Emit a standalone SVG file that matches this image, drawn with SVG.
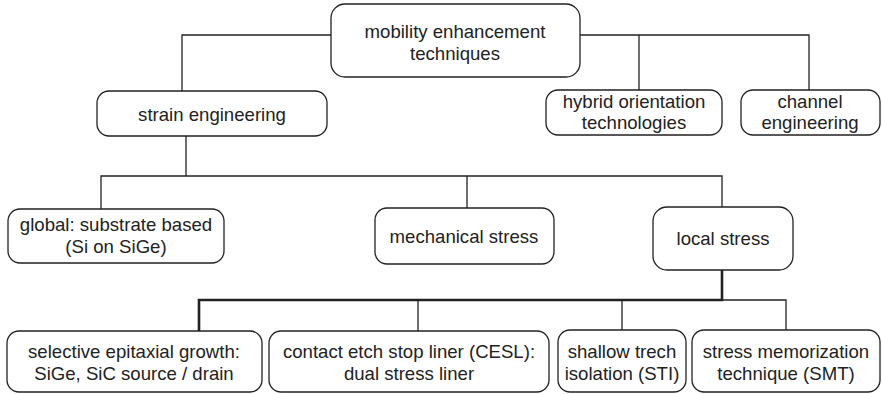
<svg xmlns="http://www.w3.org/2000/svg" width="882" height="394" viewBox="0 0 882 394">
<style>
.n rect{fill:#fff;stroke:#222;stroke-width:1.3}
.n text{font-family:"Liberation Sans",Arial,sans-serif;font-size:18.6px;fill:#222;text-anchor:middle}
.c path{fill:none;stroke:#222;stroke-width:1.3}
.c path.t{stroke-width:2.6}
</style>
<rect width="882" height="394" fill="#fff"/>
<g class="c">
<path d="M331 35H182V91"/>
<path d="M580 35H809V90M639 35V90"/>
<path d="M186 136V176M101 209V176H722V207M467 176V208"/>
<path class="t" d="M722 270V300H199V331"/>
<path d="M418 300V331M622 300V330M722 300H786V330"/>
</g>
<g class="n" id="n-mobility"><rect x="331" y="4" width="249" height="73" rx="14"/><text x="455" y="38">mobility enhancement</text><text x="455" y="60">techniques</text></g>
<g class="n" id="n-strain"><rect x="97" y="91" width="230" height="45" rx="12"/><text x="212" y="121">strain engineering</text></g>
<g class="n" id="n-hybrid"><rect x="546" y="90" width="176" height="45" rx="12"/><text x="634" y="108">hybrid orientation</text><text x="634" y="129">technologies</text></g>
<g class="n" id="n-channel"><rect x="741" y="90" width="139" height="45" rx="12"/><text x="810" y="108">channel</text><text x="810" y="129">engineering</text></g>
<g class="n" id="n-global"><rect x="8" y="209" width="216" height="54" rx="12"/><text x="116" y="231">global: substrate based</text><text x="116" y="253">(Si on SiGe)</text></g>
<g class="n" id="n-mech"><rect x="375" y="208" width="179" height="56" rx="12"/><text x="464" y="243">mechanical stress</text></g>
<g class="n" id="n-local"><rect x="653" y="207" width="140" height="63" rx="14"/><text x="723" y="245">local stress</text></g>
<g class="n" id="n-seg"><rect x="7" y="331" width="255" height="61" rx="12"/><text x="134" y="358">selective epitaxial growth:</text><text x="134" y="380">SiGe, SiC source / drain</text></g>
<g class="n" id="n-cesl"><rect x="269" y="331" width="280" height="61" rx="12"/><text x="409" y="358">contact etch stop liner (CESL):</text><text x="409" y="380">dual stress liner</text></g>
<g class="n" id="n-sti"><rect x="558" y="330" width="128" height="62" rx="12"/><text x="622" y="358">shallow trech</text><text x="622" y="380">isolation (STI)</text></g>
<g class="n" id="n-smt"><rect x="692" y="330" width="188" height="62" rx="12"/><text x="786" y="358">stress memorization</text><text x="786" y="380">technique (SMT)</text></g>
</svg>
